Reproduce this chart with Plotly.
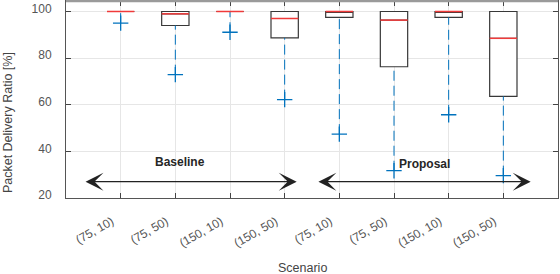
import plotly.graph_objects as go

# ---------------- data ----------------
scenarios = ["(75, 10)", "(75, 50)", "(150, 10)", "(150, 50)",
             "(75, 10)", "(75, 50)", "(150, 10)", "(150, 50)"]
positions = [1, 2, 3, 4, 5, 6, 7, 8]
q1 = [100, 94.0, 100, 88.7, 97.5, 76.3, 97.5, 63.6]
median = [100, 99.0, 100, 97.0, 100, 96.3, 100, 88.5]
q3 = [100, 100, 100, 100, 100, 100, 100, 100]
lower_whisker = [95.0, 72.9, 91.1, 62.2, 47.4, 31.7, 55.7, 29.6]
outliers = [95.0, 72.9, 91.1, 62.2, 47.4, 31.7, 55.7, 29.6]

group_labels = ["Baseline", "Proposal"]
group_spans = [(0.33, 4.22), (4.59, 8.5)]
group_text_x = [2.085, 6.55]
group_text_y = [35.5, 34.8]
arrow_y = 27.0

# ---------------- style ----------------
BOX_W = 0.5
BLUE = "#0072BD"
RED = "#f03a3a"
DARK = "#383838"
FONT = "Liberation Sans, Arial, sans-serif"

fig = go.Figure()

# whiskers (dashed, blue)
for p, lo, b in zip(positions, lower_whisker, q1):
    fig.add_trace(go.Scatter(x=[p, p], y=[lo, b], mode="lines",
                             line=dict(color=BLUE, width=1, dash="10px,5px"),
                             showlegend=False, hoverinfo="skip"))

# boxes
for p, a, m, b in zip(positions, q1, median, q3):
    fig.add_trace(go.Box(x=[p], q1=[a], median=[m], q3=[b],
                         lowerfence=[a], upperfence=[b],
                         width=BOX_W, whiskerwidth=0,
                         fillcolor="white",
                         line=dict(color=DARK, width=1.2),
                         showlegend=False, hoverinfo="skip"))

# medians (red)
for p, m in zip(positions, median):
    fig.add_trace(go.Scatter(x=[p - BOX_W / 2, p + BOX_W / 2], y=[m, m],
                             mode="lines", line=dict(color=RED, width=1.5),
                             showlegend=False, hoverinfo="skip"))

# outliers (+)
fig.add_trace(go.Scatter(x=positions, y=outliers, mode="markers",
                         marker=dict(symbol="cross-thin", size=11,
                                     line=dict(color=BLUE, width=1.3)),
                         showlegend=False, hoverinfo="skip"))

# group arrows and labels
for (x0, x1), lbl, tx, ty in zip(group_spans, group_labels, group_text_x, group_text_y):
    fig.add_annotation(x=x1, y=arrow_y, ax=x0, ay=arrow_y,
                       xref="x", yref="y", axref="x", ayref="y",
                       showarrow=True, arrowhead=3, startarrowhead=3,
                       arrowside="end+start", arrowsize=2.3, startarrowsize=2.3,
                       arrowwidth=1.3, arrowcolor="#222222", text="")
    fig.add_annotation(x=tx, y=ty, xref="x", yref="y", text="<b>" + lbl + "</b>",
                       showarrow=False, font=dict(family=FONT, size=12, color="#262626"))

# axis titles as annotations
fig.add_annotation(text="Packet Delivery Ratio [%]", xref="paper", yref="paper",
                   x=-0.118, y=0.385, xanchor="center", yanchor="middle",
                   textangle=-90, showarrow=False,
                   font=dict(family=FONT, size=12.5, color="#444444"))
fig.add_annotation(text="Scenario", xref="paper", yref="paper",
                   x=0.48, y=-0.355, xanchor="center", yanchor="middle", showarrow=False,
                   font=dict(family=FONT, size=12.5, color="#444444"))

# thick grey top border
fig.add_shape(type="line", xref="paper", yref="paper", x0=0, x1=1, y0=1, y1=1,
              line=dict(color="#9a9a9a", width=2.5))

fig.update_layout(
    template="none",
    width=560, height=274,
    margin=dict(l=66, r=2, t=1, b=76, autoexpand=False),
    paper_bgcolor="white", plot_bgcolor="white",
    font=dict(family=FONT, size=12, color="#555555"),
    boxmode="overlay",
)
fig.update_xaxes(range=[0, 9], tickmode="array", tickvals=positions, ticktext=scenarios,
                 tickangle=-30, ticks="inside", ticklen=5, tickcolor="#444444",
                 showline=True, linecolor="#555555", linewidth=1, mirror="ticks",
                 showgrid=True, gridcolor="#e6e6e6", zeroline=False, automargin=False,
                 ticklabelstandoff=11, ticklabelshift=-9,
                 tickfont=dict(family=FONT, size=12, color="#555555"))
fig.update_yaxes(range=[20, 104.5], tickmode="array", tickvals=[20, 40, 60, 80, 100],
                 ticks="inside", ticklen=5, tickcolor="#444444",
                 showline=True, linecolor="#555555", linewidth=1, mirror="ticks",
                 showgrid=True, gridcolor="#e6e6e6", zeroline=False, automargin=False,
                 ticklabelstandoff=11, ticklabelshift=-3,
                 tickfont=dict(family=FONT, size=12, color="#555555"))

fig.write_html("out.html", config={"displayModeBar": False},
               post_script="document.body.style.margin='0px';document.body.style.overflow='hidden';")
